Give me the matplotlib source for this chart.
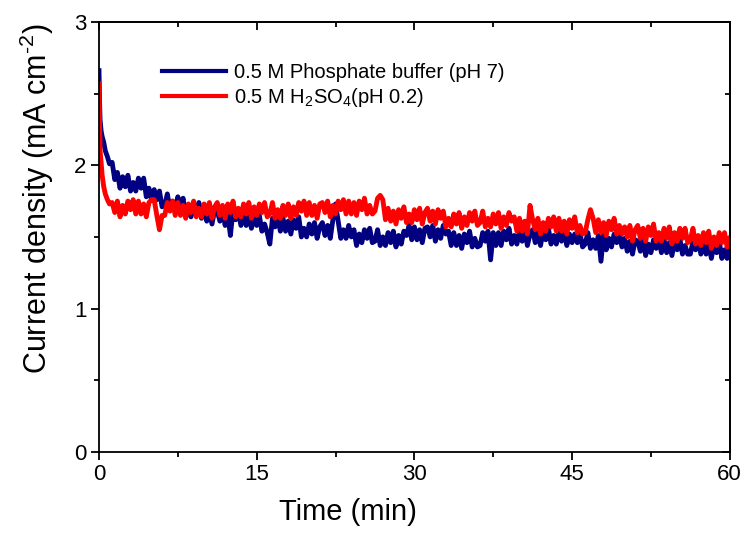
import matplotlib
matplotlib.use("Agg")
import matplotlib.pyplot as plt
from matplotlib.ticker import MultipleLocator

plt.rcParams['font.family'] = ['Liberation Sans', 'DejaVu Sans']
plt.rcParams['mathtext.fontset'] = 'custom'
plt.rcParams['mathtext.rm'] = 'Liberation Sans'
plt.rcParams['mathtext.default'] = 'regular'

# time in minutes
time = [0, 0.05, 0.1, 0.2, 0.3, 0.45, 0.6, 0.8, 1.0,
        1.25, 1.5, 1.75, 2.0, 2.25, 2.5, 2.75, 3.0, 3.25, 3.5, 3.75, 4.0, 4.25, 4.5, 4.75, 5.0, 5.25, 5.5, 5.75, 6.0,
        6.25, 6.5, 6.75, 7.0, 7.25, 7.5, 7.75, 8.0, 8.25, 8.5, 8.75, 9.0, 9.25, 9.5, 9.75, 10.0, 10.25, 10.5, 10.75, 11.0,
        11.25, 11.5, 11.75, 12.0, 12.25, 12.5, 12.75, 13.0, 13.25, 13.5, 13.75, 14.0, 14.25, 14.5, 14.75, 15.0, 15.25, 15.5, 15.75, 16.0,
        16.25, 16.5, 16.75, 17.0, 17.25, 17.5, 17.75, 18.0, 18.25, 18.5, 18.75, 19.0, 19.25, 19.5, 19.75, 20.0, 20.25, 20.5, 20.75, 21.0,
        21.25, 21.5, 21.75, 22.0, 22.25, 22.5, 22.75, 23.0, 23.25, 23.5, 23.75, 24.0, 24.25, 24.5, 24.75, 25.0, 25.25, 25.5, 25.75, 26.0,
        26.25, 26.5, 26.75, 27.0, 27.25, 27.5, 27.75, 28.0, 28.25, 28.5, 28.75, 29.0, 29.25, 29.5, 29.75, 30.0, 30.25, 30.5, 30.75, 31.0,
        31.25, 31.5, 31.75, 32.0, 32.25, 32.5, 32.75, 33.0, 33.25, 33.5, 33.75, 34.0, 34.25, 34.5, 34.75, 35.0, 35.25, 35.5, 35.75, 36.0,
        36.25, 36.5, 36.75, 37.0, 37.25, 37.5, 37.75, 38.0, 38.25, 38.5, 38.75, 39.0, 39.25, 39.5, 39.75, 40.0, 40.25, 40.5, 40.75, 41.0,
        41.25, 41.5, 41.75, 42.0, 42.25, 42.5, 42.75, 43.0, 43.25, 43.5, 43.75, 44.0, 44.25, 44.5, 44.75, 45.0, 45.25, 45.5, 45.75, 46.0,
        46.25, 46.5, 46.75, 47.0, 47.25, 47.5, 47.75, 48.0, 48.25, 48.5, 48.75, 49.0, 49.25, 49.5, 49.75, 50.0, 50.25, 50.5, 50.75, 51.0,
        51.25, 51.5, 51.75, 52.0, 52.25, 52.5, 52.75, 53.0, 53.25, 53.5, 53.75, 54.0, 54.25, 54.5, 54.75, 55.0, 55.25, 55.5, 55.75, 56.0,
        56.25, 56.5, 56.75, 57.0, 57.25, 57.5, 57.75, 58.0, 58.25, 58.5, 58.75, 59.0, 59.25, 59.5, 59.75, 60.0]

# current density (mA cm-2), 0.5 M phosphate buffer
phosphate = [2.66, 2.45, 2.32, 2.24, 2.20, 2.16, 2.10, 2.06, 2.01,
             2.02, 1.90, 1.95, 1.84, 1.92, 1.85, 1.93, 1.82, 1.88, 1.82, 1.91, 1.84, 1.91, 1.78, 1.84, 1.76, 1.83, 1.76, 1.82, 1.71,
             1.72, 1.80, 1.69, 1.75, 1.69, 1.78, 1.71, 1.77, 1.64, 1.71, 1.64, 1.73, 1.67, 1.74, 1.63, 1.71, 1.61, 1.68, 1.59, 1.69,
             1.68, 1.61, 1.69, 1.58, 1.66, 1.51, 1.69, 1.62, 1.68, 1.58, 1.67, 1.58, 1.65, 1.56, 1.65, 1.58, 1.65, 1.54, 1.59, 1.53,
             1.45, 1.63, 1.57, 1.64, 1.54, 1.63, 1.54, 1.61, 1.52, 1.62, 1.56, 1.64, 1.50, 1.56, 1.50, 1.59, 1.52, 1.60, 1.49, 1.57,
             1.60, 1.51, 1.58, 1.49, 1.62, 1.73, 1.61, 1.49, 1.55, 1.49, 1.58, 1.50, 1.55, 1.44, 1.52, 1.46, 1.55, 1.49, 1.56, 1.46,
             1.47, 1.55, 1.44, 1.50, 1.44, 1.53, 1.46, 1.54, 1.43, 1.51, 1.45, 1.54, 1.51, 1.58, 1.48, 1.57, 1.48, 1.55, 1.46, 1.56,
             1.57, 1.50, 1.58, 1.47, 1.55, 1.49, 1.58, 1.52, 1.54, 1.44, 1.53, 1.44, 1.51, 1.42, 1.52, 1.46, 1.54, 1.43, 1.49, 1.43,
             1.44, 1.53, 1.47, 1.54, 1.34, 1.53, 1.44, 1.53, 1.44, 1.54, 1.48, 1.56, 1.45, 1.51, 1.45, 1.54, 1.47, 1.55, 1.44, 1.52,
             1.55, 1.46, 1.53, 1.44, 1.54, 1.48, 1.56, 1.45, 1.51, 1.45, 1.54, 1.47, 1.55, 1.44, 1.52, 1.46, 1.52, 1.46, 1.53, 1.43,
             1.45, 1.53, 1.42, 1.48, 1.42, 1.51, 1.33, 1.52, 1.41, 1.49, 1.43, 1.52, 1.46, 1.53, 1.43, 1.49, 1.40, 1.47, 1.38, 1.48,
             1.47, 1.40, 1.48, 1.37, 1.45, 1.39, 1.48, 1.42, 1.49, 1.39, 1.48, 1.39, 1.46, 1.37, 1.47, 1.41, 1.49, 1.38, 1.44, 1.38,
             1.38, 1.47, 1.41, 1.48, 1.38, 1.47, 1.38, 1.45, 1.35, 1.45, 1.39, 1.47, 1.35, 1.41, 1.35, 1.42]

# current density (mA cm-2), 0.5 M H2SO4
h2so4 = [2.57, 2.30, 2.10, 2.02, 1.93, 1.85, 1.80, 1.76, 1.73,
         1.74, 1.67, 1.75, 1.64, 1.72, 1.66, 1.75, 1.69, 1.76, 1.66, 1.75, 1.66, 1.73, 1.64, 1.74, 1.76, 1.76, 1.65, 1.55, 1.65,
         1.65, 1.74, 1.68, 1.75, 1.65, 1.74, 1.65, 1.72, 1.63, 1.73, 1.67, 1.75, 1.64, 1.70, 1.64, 1.73, 1.66, 1.74, 1.63, 1.71,
         1.74, 1.65, 1.72, 1.63, 1.73, 1.67, 1.75, 1.64, 1.70, 1.64, 1.73, 1.66, 1.74, 1.63, 1.71, 1.65, 1.73, 1.67, 1.74, 1.64,
         1.66, 1.74, 1.63, 1.69, 1.63, 1.72, 1.65, 1.73, 1.63, 1.71, 1.65, 1.74, 1.68, 1.75, 1.65, 1.74, 1.65, 1.72, 1.63, 1.73,
         1.74, 1.67, 1.75, 1.64, 1.72, 1.66, 1.75, 1.69, 1.76, 1.66, 1.75, 1.66, 1.74, 1.65, 1.75, 1.69, 1.77, 1.66, 1.72, 1.66,
         1.68, 1.77, 1.79, 1.76, 1.62, 1.70, 1.61, 1.68, 1.59, 1.69, 1.63, 1.71, 1.60, 1.66, 1.60, 1.69, 1.62, 1.70, 1.59, 1.67,
         1.70, 1.61, 1.68, 1.59, 1.69, 1.63, 1.68, 1.57, 1.63, 1.57, 1.66, 1.59, 1.67, 1.56, 1.64, 1.58, 1.67, 1.61, 1.68, 1.58,
         1.60, 1.68, 1.57, 1.63, 1.57, 1.66, 1.59, 1.67, 1.56, 1.64, 1.58, 1.67, 1.61, 1.64, 1.54, 1.63, 1.54, 1.61, 1.52, 1.72,
         1.62, 1.55, 1.63, 1.52, 1.60, 1.54, 1.63, 1.57, 1.64, 1.54, 1.63, 1.54, 1.61, 1.52, 1.62, 1.56, 1.64, 1.53, 1.58, 1.52,
         1.53, 1.62, 1.69, 1.63, 1.53, 1.62, 1.53, 1.60, 1.51, 1.61, 1.55, 1.63, 1.52, 1.58, 1.52, 1.57, 1.50, 1.58, 1.47, 1.55,
         1.58, 1.49, 1.56, 1.47, 1.57, 1.51, 1.59, 1.47, 1.53, 1.47, 1.56, 1.49, 1.57, 1.45, 1.53, 1.47, 1.56, 1.49, 1.56, 1.46,
         1.48, 1.56, 1.45, 1.51, 1.44, 1.53, 1.46, 1.54, 1.42, 1.50, 1.44, 1.53, 1.46, 1.53, 1.43, 1.49]

labels = ['0.5 M Phosphate buffer (pH 7)', '0.5 M H$_2$SO$_4$(pH 0.2)']

fig = plt.figure(figsize=(7.5, 5.36), dpi=100)
ax = fig.add_axes([0.132, 0.157, 0.841, 0.802])

ax.plot(time, phosphate, color='#000080', lw=3.5, label=labels[0])
ax.plot(time, h2so4, color='#FF0000', lw=3.5, label=labels[1])

ax.set_xlim(0, 60)
ax.set_ylim(0, 3)
ax.xaxis.set_major_locator(MultipleLocator(15))
ax.xaxis.set_minor_locator(MultipleLocator(7.5))
ax.yaxis.set_major_locator(MultipleLocator(1))
ax.yaxis.set_minor_locator(MultipleLocator(0.5))
ax.tick_params(which='major', direction='out', length=6, width=1.3, labelsize=16, pad=3)
ax.tick_params(which='minor', direction='out', length=3.5, width=1.3)

# mirrored ticks pointing inward on top and right
top = ax.secondary_xaxis('top')
top.xaxis.set_major_locator(MultipleLocator(15))
top.xaxis.set_minor_locator(MultipleLocator(7.5))
top.tick_params(which='major', direction='in', length=6, width=1.3, labeltop=False)
top.tick_params(which='minor', direction='in', length=3.5, width=1.3)
right = ax.secondary_yaxis('right')
right.yaxis.set_major_locator(MultipleLocator(1))
right.yaxis.set_minor_locator(MultipleLocator(0.5))
right.tick_params(which='major', direction='in', length=6, width=1.3, labelright=False)
right.tick_params(which='minor', direction='in', length=3.5, width=1.3)
for s in list(ax.spines.values()) + [top.spines['top'], right.spines['right']]:
    s.set_linewidth(1.3)

ax.set_xlabel('Time (min)', fontsize=21)
ax.set_ylabel('Current density (mA cm$^{\\text{-}2}$)', fontsize=22)
ax.xaxis.set_label_coords(0.395, -0.107)
ax.yaxis.set_label_coords(-0.068, 0.59)

leg = ax.legend(loc='upper left', bbox_to_anchor=(162 / 750, 1 - 63 / 536),
                bbox_transform=fig.transFigure, frameon=False, fontsize=14.5,
                handlelength=3.2, handletextpad=0.4, labelspacing=0.2,
                borderpad=0, borderaxespad=0)
for line in leg.get_lines():
    line.set_linewidth(3)

fig.savefig('out.png', dpi=100)
